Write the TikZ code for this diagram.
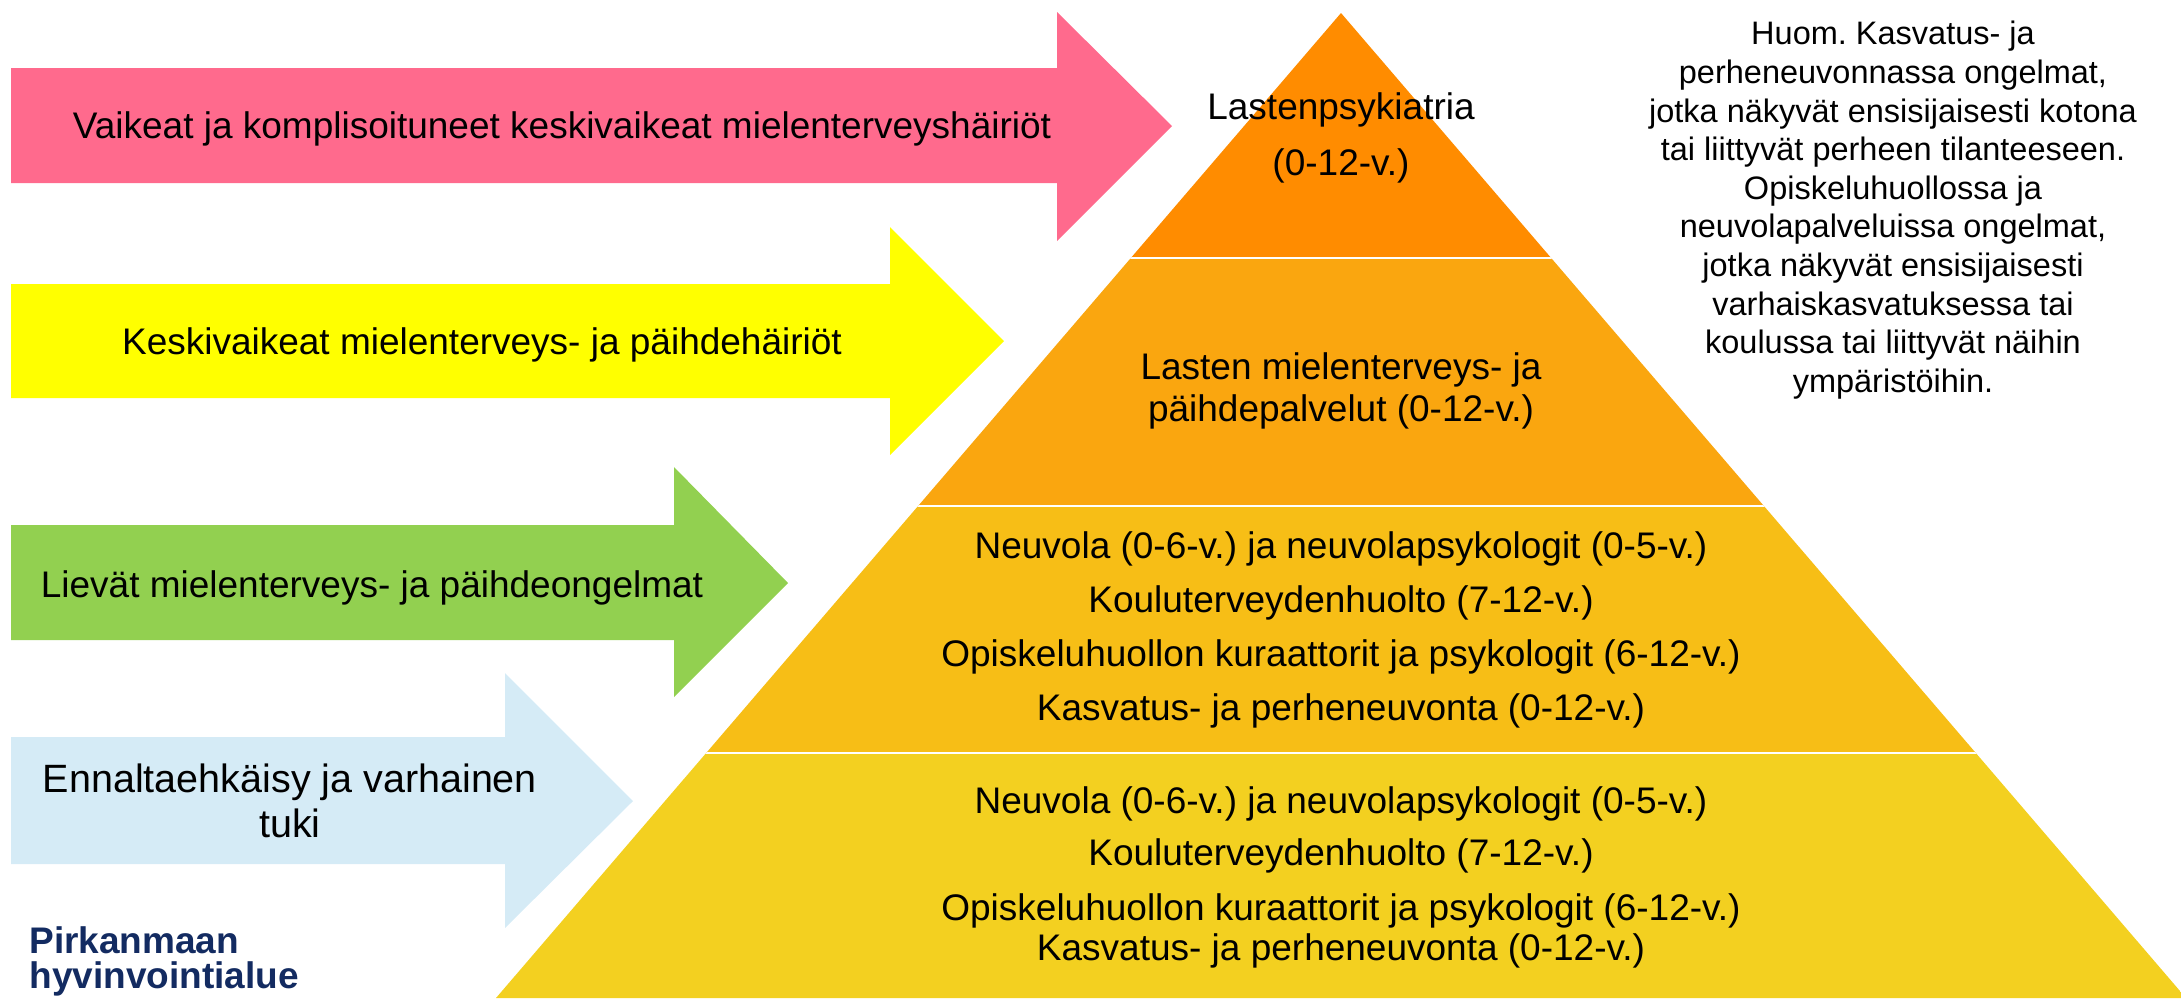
\documentclass[tikz,border=0pt]{standalone}
\usepackage{fontspec}
\setmainfont{Liberation Sans}
\frenchspacing
\definecolor{pinkA}{HTML}{FF6A8D}
\definecolor{yellowA}{HTML}{FFFF00}
\definecolor{greenA}{HTML}{92D050}
\definecolor{blueA}{HTML}{D5EBF6}
\definecolor{pyrA}{HTML}{FF8C00}
\definecolor{pyrB}{HTML}{FAA60F}
\definecolor{pyrC}{HTML}{F7BE16}
\definecolor{pyrD}{HTML}{F3D020}
\definecolor{logoblue}{HTML}{132B61}
\tikzset{
  lbl/.style={inner sep=0pt, text=black, anchor=base, font=\fontsize{18.5}{21.25}\selectfont},
  blk/.style={inner sep=0pt, text=black, align=center, anchor=north},
  sep/.style={white, line width=1.25pt}
}
\begin{document}
\frenchspacing
\begin{tikzpicture}[x=0.5pt,y=-0.5pt]
\useasboundingbox (0,0) rectangle (2181,998);
% arrows
\fill[pinkA] (11,68) -- (1057,68) -- (1057,12) -- (1172,126) -- (1057,241) -- (1057,183) -- (11,183) -- cycle;
\fill[yellowA] (11,284) -- (890,284) -- (890,227) -- (1004,341) -- (890,455) -- (890,398) -- (11,398) -- cycle;
\fill[greenA] (11,525) -- (674,525) -- (674,467) -- (788,583) -- (674,697) -- (674,640) -- (11,640) -- cycle;
\fill[blueA] (11,737) -- (505,737) -- (505,673) -- (633,801) -- (505,928) -- (505,864) -- (11,864) -- cycle;
% pyramid
\begin{scope}
  \clip (1341,13) -- (2186,998) -- (496,998) -- cycle;
  \fill[pyrA] (400,0) rectangle (2300,258);
  \fill[pyrB] (400,258) rectangle (2300,506);
  \fill[pyrC] (400,506) rectangle (2300,753);
  \fill[pyrD] (400,753) rectangle (2300,1000);
  \draw[sep] (400,258) -- (2300,258);
  \draw[sep] (400,506) -- (2300,506);
  \draw[sep] (400,753) -- (2300,753);
\end{scope}
% arrow labels
\node[lbl] (a1) at (562,138.5) {Vaikeat ja komplisoituneet keskivaikeat mielenterveyshäiriöt};
\node[lbl] (a2) at (482,354) {Keskivaikeat mielenterveys- ja päihdehäiriöt};
\node[lbl] (a3) at (372,597) {Lievät mielenterveys- ja päihdeongelmat};
\node[blk, font=\fontsize{19.75}{22.5}\selectfont] (a4) at (290,763) {Ennaltaehkäisy ja varhainen\\tuki};
% pyramid labels
\node[blk, font=\fontsize{18.5}{28}\selectfont] (p1) at (1341,92) {Lastenpsykiatria\\(0-12-v.)};
\node[blk, font=\fontsize{18.5}{21}\selectfont] (p2) at (1341,352) {Lasten mielenterveys- ja\\päihdepalvelut (0-12-v.)};
\node[blk, font=\fontsize{18.5}{27}\selectfont] (p3) at (1341,531) {Neuvola (0-6-v.) ja neuvolapsykologit (0-5-v.)\\Kouluterveydenhuolto (7-12-v.)\\Opiskeluhuollon kuraattorit ja psykologit (6-12-v.)\\Kasvatus- ja perheneuvonta (0-12-v.)};
\node[blk, font=\fontsize{18.5}{26}\selectfont] (p4) at (1341,786) {Neuvola (0-6-v.) ja neuvolapsykologit (0-5-v.)\\Kouluterveydenhuolto (7-12-v.)\\[1.5pt]Opiskeluhuollon kuraattorit ja psykologit (6-12-v.)\\[-6pt]Kasvatus- ja perheneuvonta (0-12-v.)};
% note
\node[blk, font=\fontsize{16.25}{19.3}\selectfont] (note) at (1893,21) {Huom. Kasvatus- ja\\perheneuvonnassa ongelmat,\\jotka näkyvät ensisijaisesti kotona\\tai liittyvät perheen tilanteeseen.\\Opiskeluhuollossa ja\\neuvolapalveluissa ongelmat,\\jotka näkyvät ensisijaisesti\\varhaiskasvatuksessa tai\\koulussa tai liittyvät näihin\\ympäristöihin.};
% logo
\node[inner sep=0pt, anchor=north west, align=left, text=logoblue, font=\bfseries\fontsize{18.5}{17.6}\selectfont] (logo) at (29,926) {Pirkanmaan\\hyvinvointialue};
\end{tikzpicture}
\end{document}
